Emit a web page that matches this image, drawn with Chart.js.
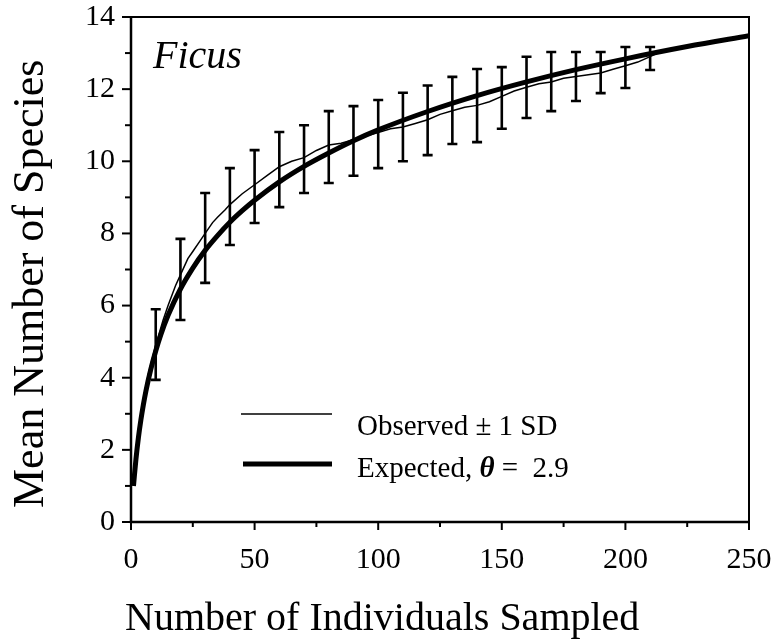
<!DOCTYPE html>
<html><head><meta charset="utf-8">
<script src="https://cdn.jsdelivr.net/npm/chart.js@4/dist/chart.umd.min.js"></script>
<style>html,body{margin:0;padding:0;background:#fff}canvas{display:block}</style>
</head><body>
<canvas id="c" width="775" height="642"></canvas>
<script>
// ---- data ----
const expectedX = [1, 2, 3, 4, 5, 6, 8, 10, 12, 15, 20, 25, 30, 35, 40, 45, 50, 60, 70, 80, 90, 100, 120, 140, 160, 180, 200, 225, 250];
const expectedY = [1.0, 1.74, 2.34, 2.83, 3.25, 3.62, 4.23, 4.74, 5.18, 5.73, 6.46, 7.04, 7.53, 7.94, 8.31, 8.63, 8.92, 9.43, 9.86, 10.23, 10.57, 10.87, 11.38, 11.82, 12.20, 12.54, 12.84, 13.18, 13.48];

const observedX = [1, 3, 5, 7, 10, 13, 15, 18, 20, 23, 25, 28, 30, 33, 35, 38, 40, 45, 50, 55, 60, 65, 70, 75, 80, 85, 90, 95, 100, 105, 110, 115, 120, 125, 130, 135, 140, 145, 150, 155, 160, 165, 170, 175, 180, 185, 190, 195, 200, 205, 210, 213];
const observedY = [1.0, 2.4, 3.4, 4.1, 4.9, 5.6, 6.0, 6.55, 6.85, 7.3, 7.5, 7.8, 8.0, 8.3, 8.45, 8.65, 8.8, 9.1, 9.35, 9.6, 9.85, 10.0, 10.1, 10.3, 10.45, 10.5, 10.6, 10.7, 10.8, 10.9, 10.95, 11.05, 11.15, 11.3, 11.4, 11.5, 11.55, 11.65, 11.8, 11.95, 12.05, 12.15, 12.2, 12.3, 12.35, 12.4, 12.45, 12.55, 12.65, 12.75, 12.9, 13.0];

const barX    = [10, 20, 30, 40, 50, 60, 70, 80, 90, 100, 110, 120, 130, 140, 150, 160, 170, 180, 190, 200, 210];
const barLow  = [3.94, 5.60, 6.63, 7.68, 8.29, 8.73, 9.12, 9.40, 9.60, 9.81, 10.00, 10.17, 10.48, 10.53, 10.90, 11.20, 11.39, 11.67, 11.89, 12.03, 12.53];
const barHigh = [5.90, 7.85, 9.12, 9.81, 10.31, 10.81, 11.00, 11.39, 11.53, 11.70, 11.90, 12.10, 12.34, 12.56, 12.61, 12.90, 13.03, 13.03, 13.03, 13.17, 13.17];

const xTickValues = [0, 50, 100, 150, 200, 250];
const yTickValues = [0, 2, 4, 6, 8, 10, 12, 14];
const xTitle = 'Number of Individuals Sampled';
const yTitle = 'Mean Number of Species';
const panelLabel = 'Ficus';
const legendObserved = 'Observed ± 1 SD';
const legendExpectedA = 'Expected, ';
const legendExpectedTheta = 'θ';
const legendExpectedB = ' =  2.9';

const SERIF = '"Liberation Serif", "DejaVu Serif", serif';

const toPts = (xs, ys) => xs.map((x, i) => ({x, y: ys[i]}));

const decorPlugin = {
  id: 'decor',
  beforeDatasetsDraw(chart) {
    const {ctx} = chart;
    const xs = chart.scales.x, ys = chart.scales.y;
    ctx.save();
    ctx.strokeStyle = '#000';
    ctx.lineWidth = 2.6;
    ctx.lineCap = 'butt';
    barX.forEach((x, i) => {
      const px = xs.getPixelForValue(x);
      const p1 = ys.getPixelForValue(barLow[i]);
      const p2 = ys.getPixelForValue(barHigh[i]);
      ctx.beginPath();
      ctx.moveTo(px, p1); ctx.lineTo(px, p2);
      ctx.moveTo(px - 5, p1); ctx.lineTo(px + 5, p1);
      ctx.moveTo(px - 5, p2); ctx.lineTo(px + 5, p2);
      ctx.stroke();
    });
    ctx.restore();
  },
  afterDraw(chart) {
    const {ctx, chartArea: a} = chart;
    const xs = chart.scales.x, ys = chart.scales.y;
    ctx.save();
    ctx.strokeStyle = '#000';
    ctx.fillStyle = '#000';
    // frame
    ctx.lineWidth = 2.5;
    ctx.beginPath();
    ctx.moveTo(a.left, a.top); ctx.lineTo(a.left, a.bottom); ctx.lineTo(a.right, a.bottom);
    ctx.stroke();
    ctx.lineWidth = 2;
    ctx.beginPath();
    ctx.moveTo(a.left, a.top); ctx.lineTo(a.right, a.top); ctx.lineTo(a.right, a.bottom);
    ctx.stroke();
    // ticks (major + minor)
    ctx.lineWidth = 2;
    for (let v = 0; v <= 14; v += 1) {
      const py = ys.getPixelForValue(v);
      const len = v % 2 === 0 ? 9 : 6;
      ctx.beginPath(); ctx.moveTo(a.left - len, py); ctx.lineTo(a.left, py); ctx.stroke();
    }
    for (let v = 0; v <= 250; v += 25) {
      const px = xs.getPixelForValue(v);
      const len = v % 50 === 0 ? 8 : 5;
      ctx.beginPath(); ctx.moveTo(px, a.bottom); ctx.lineTo(px, a.bottom + len); ctx.stroke();
    }
    // axis titles
    ctx.textBaseline = 'alphabetic';
    ctx.textAlign = 'left';
    ctx.font = '40px ' + SERIF;
    ctx.fillText(xTitle, a.left - 6, 630);
    ctx.save();
    ctx.translate(43, 508);
    ctx.rotate(-Math.PI / 2);
    ctx.font = '44px ' + SERIF;
    ctx.fillText(yTitle, 0, 0);
    ctx.restore();
    // panel label
    ctx.font = 'italic 40px ' + SERIF;
    ctx.fillText(panelLabel, a.left + 22, a.top + 51);
    // legend
    const lx1 = a.left + 110, lx2 = a.left + 201;
    ctx.lineWidth = 1.6;
    ctx.beginPath(); ctx.moveTo(lx1, a.top + 397); ctx.lineTo(lx2, a.top + 397); ctx.stroke();
    ctx.lineWidth = 5;
    ctx.beginPath(); ctx.moveTo(lx1 + 2, a.top + 447); ctx.lineTo(lx2, a.top + 447); ctx.stroke();
    ctx.font = '29px ' + SERIF;
    const tx = a.left + 226;
    ctx.fillText(legendObserved, tx, a.top + 418);
    ctx.fillText(legendExpectedA, tx, a.top + 460);
    let w = ctx.measureText(legendExpectedA).width;
    ctx.font = 'italic bold 29px ' + SERIF;
    ctx.fillText(legendExpectedTheta, tx + w, a.top + 460);
    w += ctx.measureText(legendExpectedTheta).width;
    ctx.font = '29px ' + SERIF;
    ctx.fillText(legendExpectedB, tx + w, a.top + 460);
    ctx.restore();
  }
};

new Chart(document.getElementById('c'), {
  type: 'scatter',
  data: {
    datasets: [
      {
        label: 'Observed',
        data: toPts(observedX, observedY),
        showLine: true,
        borderColor: '#000',
        borderWidth: 1.5,
        pointRadius: 0,
        tension: 0,
        fill: false
      },
      {
        label: 'Expected',
        data: toPts(expectedX, expectedY),
        showLine: true,
        borderColor: '#000',
        borderWidth: 5,
        pointRadius: 0,
        cubicInterpolationMode: 'monotone',
        fill: false
      }
    ]
  },
  options: {
    responsive: false,
    animation: false,
    devicePixelRatio: 1,
    layout: {padding: {top: 17, right: 26, left: 0, bottom: 0}},
    plugins: {legend: {display: false}, tooltip: {enabled: false}},
    scales: {
      x: {
        type: 'linear', min: 0, max: 250,
        afterFit: s => { s.height = 120; s.paddingLeft = 0; s.paddingRight = 0; },
        afterBuildTicks: s => { s.ticks = xTickValues.map(v => ({value: v})); },
        grid: {display: false, drawTicks: false},
        border: {display: false},
        ticks: {color: '#000', font: {family: SERIF, size: 30}, padding: 20, maxRotation: 0},
        title: {display: false}
      },
      y: {
        type: 'linear', min: 0, max: 14,
        afterFit: s => { s.width = 131; s.paddingTop = 0; s.paddingBottom = 0; },
        afterBuildTicks: s => { s.ticks = yTickValues.map(v => ({value: v})); },
        grid: {display: false, drawTicks: false},
        border: {display: false},
        ticks: {color: '#000', font: {family: SERIF, size: 30}, padding: 16},
        title: {display: false}
      }
    }
  },
  plugins: [decorPlugin]
});
</script>
</body></html>
